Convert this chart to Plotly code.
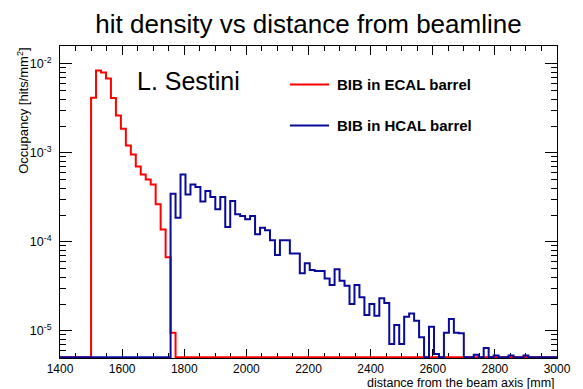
import numpy as np
import plotly.graph_objects as go

# ---------------- data ----------------
BIN_WIDTH = 16  # mm
X_MIN, X_MAX = 1400, 3000
Y_MIN_EXP, Y_MAX_EXP = -5.305, -1.80
FLOOR = 5.06e-6  # empty bins drawn on the bottom of the frame (as ROOT does)

ecal_start = 1500
ecal_occupancy = [4.16e-3, 8.41e-3, 8.0e-3, 6.84e-3, 4.13e-3, 2.62e-3, 1.86e-3,
                  1.21e-3, 9.57e-4, 7.03e-4, 5.71e-4, 5.02e-4, 4.42e-4, 2.64e-4,
                  1.38e-4, 6.73e-5, 9.5e-6]

hcal_start = 1756
hcal_occupancy = [3.47e-4, 1.87e-4, 5.71e-4, 3.41e-4, 4.42e-4, 4.12e-4, 2.83e-4,
                  3.72e-4, 3.18e-4, 2.32e-4, 3.18e-4, 1.47e-4, 2.87e-4, 2.04e-4,
                  1.95e-4, 1.79e-4, 1.95e-4, 1.22e-4, 1.44e-4, 1.35e-4, 1.04e-4,
                  7.13e-5, 1.04e-4, 1.04e-4, 7.4e-5, 7.4e-5, 4.45e-5, 5.75e-5,
                  4.84e-5, 4.7e-5, 4.7e-5, 3.88e-5, 3.27e-5, 4.93e-5, 3.65e-5,
                  3.22e-5, 2.0e-5, 3.27e-5, 2.38e-5, 1.51e-5, 2.0e-5, 1.48e-5,
                  2.33e-5, 2.05e-5, 7.13e-6, 1.16e-5, 7.13e-6, 1.44e-5, 1.57e-5,
                  1.3e-5, 8.5e-6, 0, 1.11e-5, 5.5e-6, 0, 9.5e-6, 1.36e-5, 9.5e-6,
                  9.4e-6, 0, 0, 5.4e-6, 0, 6.4e-6, 0, 5.3e-6, 0, 0, 5.3e-6, 0, 0,
                  5.3e-6]

x_major_ticks = [1400, 1600, 1800, 2000, 2200, 2400, 2600, 2800, 3000]
y_major_ticks = [1e-5, 1e-4, 1e-3, 1e-2]
y_tick_labels = ["10<sup>-5</sup>", "10<sup>-4</sup>", "10<sup>-3</sup>", "10<sup>-2</sup>"]

series_names = ["BIB in ECAL barrel", "BIB in HCAL barrel"]
series_starts = [ecal_start, hcal_start]
series_values = [ecal_occupancy, hcal_occupancy]
series_colors = ["#ff0000", "#0a0a99"]

FONT = "Liberation Sans, Arial, Helvetica, sans-serif"

# plot-area geometry in pixels (for placing text/legend in paper coords)
L, R, T, B = 60, 15, 46, 31
PW, PH = 583 - L - R, 389 - T - B


def px_x(px):
    return (px - L) / PW


def px_y(py):
    return 1 - (py - T) / PH


def step_outline(start, values):
    vals = [v if v > 0 else FLOOR for v in values]
    edges = start + BIN_WIDTH * np.arange(len(vals) + 1)
    xs = [X_MIN] + list(edges[:-1]) + [edges[-1], X_MAX]
    ys = [FLOOR] + vals + [FLOOR, FLOOR]
    return xs, ys


fig = go.Figure()
for name, start, vals, color in zip(series_names, series_starts, series_values, series_colors):
    xs, ys = step_outline(start, vals)
    fig.add_trace(go.Scatter(
        x=xs, y=ys, mode="lines", name=name,
        line=dict(color=color, width=2, shape="hv"),
        hoverinfo="skip", showlegend=False,
    ))

y_minor = [k * 10.0 ** e for e in range(-6, -1) for k in range(2, 10)
           if Y_MIN_EXP < np.log10(k * 10.0 ** e) < Y_MAX_EXP]

# manual ROOT-style legend (line sample + bold label)
legend_rows_py = [84.5, 125.5]
shapes = []
annotations = []
for name, color, py in zip(series_names, series_colors, legend_rows_py):
    shapes.append(dict(type="line", xref="paper", yref="paper",
                       x0=px_x(295), x1=px_x(335), y0=px_y(py), y1=px_y(py),
                       line=dict(color=color, width=2)))
    annotations.append(dict(text=name, xref="paper", yref="paper",
                            x=px_x(341), y=px_y(py), xanchor="left", yanchor="middle",
                            showarrow=False,
                            font=dict(size=15, family=FONT, color="black", weight="bold")))

annotations += [
    dict(text="L. Sestini", xref="paper", yref="paper",
         x=px_x(137), y=px_y(81), xanchor="left", yanchor="middle", showarrow=False,
         font=dict(size=25, family=FONT, color="black")),
    dict(text="distance from the beam axis [mm]", xref="paper", yref="paper",
         x=1.0, y=px_y(382.5), xanchor="right", yanchor="middle",
         showarrow=False, font=dict(size=12.5, family=FONT, color="black")),
    dict(text="Occupancy [hits/mm<sup>2</sup>]", xref="paper", yref="paper",
         x=px_x(22), y=1.0, xanchor="center", yanchor="top",
         textangle=-90, showarrow=False,
         font=dict(size=13, family=FONT, color="black")),
]

fig.update_layout(
    width=583, height=389,
    margin=dict(l=L, r=R, t=T, b=B),
    paper_bgcolor="white", plot_bgcolor="white",
    font=dict(family=FONT, color="black", size=12),
    title=dict(text="hit density vs distance from beamline",
               x=0.5, xref="paper", xanchor="center",
               y=1 - 24 / 389, yanchor="middle",
               font=dict(size=26, family=FONT, color="black")),
    showlegend=False,
    xaxis=dict(range=[X_MIN, X_MAX], tickvals=x_major_ticks,
               ticks="inside", ticklen=9, tickwidth=1, tickcolor="black",
               mirror="ticks", showline=True, linecolor="black", linewidth=1,
               showgrid=False, zeroline=False, layer="below traces",
               tickfont=dict(size=12, family=FONT, color="black"),
               minor=dict(dtick=50, tick0=1400, ticks="inside", ticklen=5,
                          tickcolor="black", showgrid=False)),
    yaxis=dict(type="log", range=[Y_MIN_EXP, Y_MAX_EXP],
               tickvals=y_major_ticks, ticktext=y_tick_labels,
               ticks="inside", ticklen=12, tickwidth=1, tickcolor="black",
               mirror="ticks", showline=True, linecolor="black", linewidth=1,
               showgrid=False, zeroline=False, layer="below traces",
               ticklabelstandoff=5,
               tickfont=dict(size=12.5, family=FONT, color="black"),
               minor=dict(tickmode="array", tickvals=y_minor, ticks="inside",
                          ticklen=6, tickcolor="black", showgrid=False)),
    shapes=shapes,
    annotations=annotations,
)

fig.write_html("out.html")
